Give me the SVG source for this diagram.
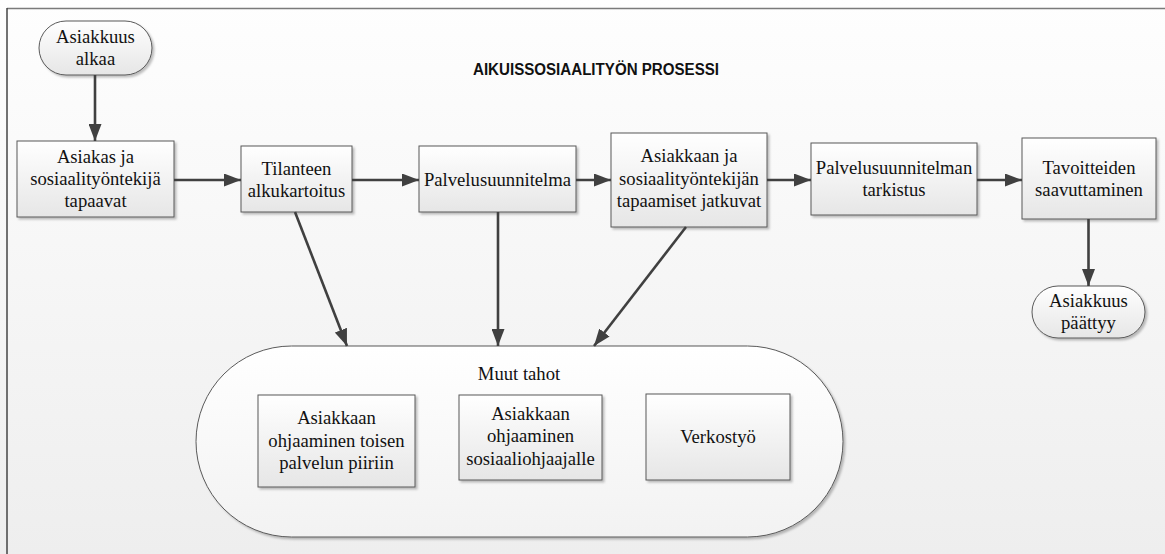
<svg xmlns="http://www.w3.org/2000/svg" width="1165" height="554" viewBox="0 0 1165 554">
<defs>
<linearGradient id="bg" x1="0" y1="0" x2="0" y2="1">
<stop offset="0" stop-color="#fefefe"/>
<stop offset="1" stop-color="#eeeeee"/>
</linearGradient>
<linearGradient id="boxg" x1="0" y1="0" x2="0" y2="1">
<stop offset="0" stop-color="#ffffff"/>
<stop offset="1" stop-color="#e6e6e6"/>
</linearGradient>
<linearGradient id="stadg" x1="0" y1="0" x2="0" y2="1">
<stop offset="0" stop-color="#ffffff"/>
<stop offset="1" stop-color="#f2f2f2"/>
</linearGradient>
<filter id="sh" x="-10%" y="-10%" width="130%" height="130%">
<feDropShadow dx="2" dy="2" stdDeviation="1" flood-color="#000" flood-opacity="0.25"/>
</filter>
<marker id="ah" markerWidth="18" markerHeight="13" refX="17" refY="6.5" orient="auto" markerUnits="userSpaceOnUse">
<path d="M0,0 L17,6.5 L0,13 Z" fill="#404040"/>
</marker>
</defs>
<style>
.box{fill:url(#boxg);stroke:#595959;stroke-width:1;filter:url(#sh)}
.term{fill:url(#boxg);stroke:#595959;stroke-width:1;filter:url(#sh)}
.t{font-family:"Liberation Serif","Times New Roman",serif;font-size:18.67px;fill:#111;text-anchor:middle}
.c{fill:none;stroke:#404040;stroke-width:2.6;marker-end:url(#ah)}
</style>
<rect x="0" y="0" width="1165" height="554" fill="url(#bg)"/>
<line x1="7" y1="8.5" x2="1165" y2="8.5" stroke="#7a7a7a" stroke-width="1.5"/>
<line x1="7" y1="8" x2="7" y2="554" stroke="#444" stroke-width="1.5"/>
<text x="596" y="75" font-family="'Liberation Sans',Arial,sans-serif" font-weight="bold" font-size="16" fill="#111" text-anchor="middle" textLength="246" lengthAdjust="spacingAndGlyphs">AIKUISSOSIAALITYÖN PROSESSI</text>

<g id="muut">
<rect x="196" y="346" width="647" height="191" rx="95.5" ry="95.5" fill="url(#stadg)" stroke="#595959" stroke-width="1" filter="url(#sh)"/>
<text class="t" x="519" y="380">Muut tahot</text>
</g>
<g id="ohjaus1">
<rect class="box" x="258" y="395" width="157" height="92"/>
<text class="t" x="336.5" y="424">Asiakkaan</text>
<text class="t" x="336.5" y="447">ohjaaminen toisen</text>
<text class="t" x="336.5" y="469">palvelun piiriin</text>
</g>
<g id="ohjaus2">
<rect class="box" x="459" y="395" width="143" height="85"/>
<text class="t" x="530.5" y="420">Asiakkaan</text>
<text class="t" x="530.5" y="442">ohjaaminen</text>
<text class="t" x="530.5" y="465">sosiaaliohjaajalle</text>
</g>
<g id="verkosto">
<rect class="box" x="646" y="394" width="144" height="86"/>
<text class="t" x="718" y="443">Verkostyö</text>
</g>

<g id="alku">
<rect class="term" x="39" y="21" width="113" height="54" rx="27" ry="27"/>
<text class="t" x="95.5" y="43">Asiakkuus</text>
<text class="t" x="95.5" y="65">alkaa</text>
</g>
<g id="tapaavat">
<rect class="box" x="17" y="141" width="157" height="76"/>
<text class="t" x="95.5" y="163">Asiakas ja</text>
<text class="t" x="95.5" y="185">sosiaalityöntekijä</text>
<text class="t" x="95.5" y="207">tapaavat</text>
</g>
<g id="alkukartoitus">
<rect class="box" x="241" y="146" width="111" height="66"/>
<text class="t" x="296.5" y="175">Tilanteen</text>
<text class="t" x="296.5" y="197">alkukartoitus</text>
</g>
<g id="palvelusuunnitelma">
<rect class="box" x="419" y="146" width="157" height="66"/>
<text class="t" x="497.5" y="186">Palvelusuunnitelma</text>
</g>
<g id="jatkuvat">
<rect class="box" x="611" y="133" width="156" height="94"/>
<text class="t" x="689" y="162">Asiakkaan ja</text>
<text class="t" x="689" y="185">sosiaalityöntekijän</text>
<text class="t" x="689" y="207">tapaamiset jatkuvat</text>
</g>
<g id="tarkistus">
<rect class="box" x="811" y="143" width="166" height="72"/>
<text class="t" x="894" y="174">Palvelusuunnitelman</text>
<text class="t" x="894" y="196">tarkistus</text>
</g>
<g id="tavoitteet">
<rect class="box" x="1022" y="138" width="134" height="81"/>
<text class="t" x="1089" y="174">Tavoitteiden</text>
<text class="t" x="1089" y="196">saavuttaminen</text>
</g>
<g id="loppu">
<rect class="term" x="1032" y="286" width="113" height="52" rx="26" ry="26"/>
<text class="t" x="1088.5" y="307">Asiakkuus</text>
<text class="t" x="1088.5" y="329">päättyy</text>
</g>

<g id="connectors">
<line class="c" x1="95" y1="75" x2="95" y2="141"/>
<line class="c" x1="174" y1="180" x2="241" y2="180"/>
<line class="c" x1="352" y1="180" x2="419" y2="180"/>
<line class="c" x1="576" y1="180" x2="611" y2="180"/>
<line class="c" x1="767" y1="180" x2="811" y2="180"/>
<line class="c" x1="977" y1="180" x2="1022" y2="180"/>
<line class="c" x1="1088.5" y1="219" x2="1088.5" y2="286"/>
<line class="c" x1="295" y1="212" x2="347" y2="346"/>
<line class="c" x1="498" y1="212" x2="498" y2="346"/>
<line class="c" x1="686" y1="227" x2="594" y2="346"/>
</g>
</svg>
